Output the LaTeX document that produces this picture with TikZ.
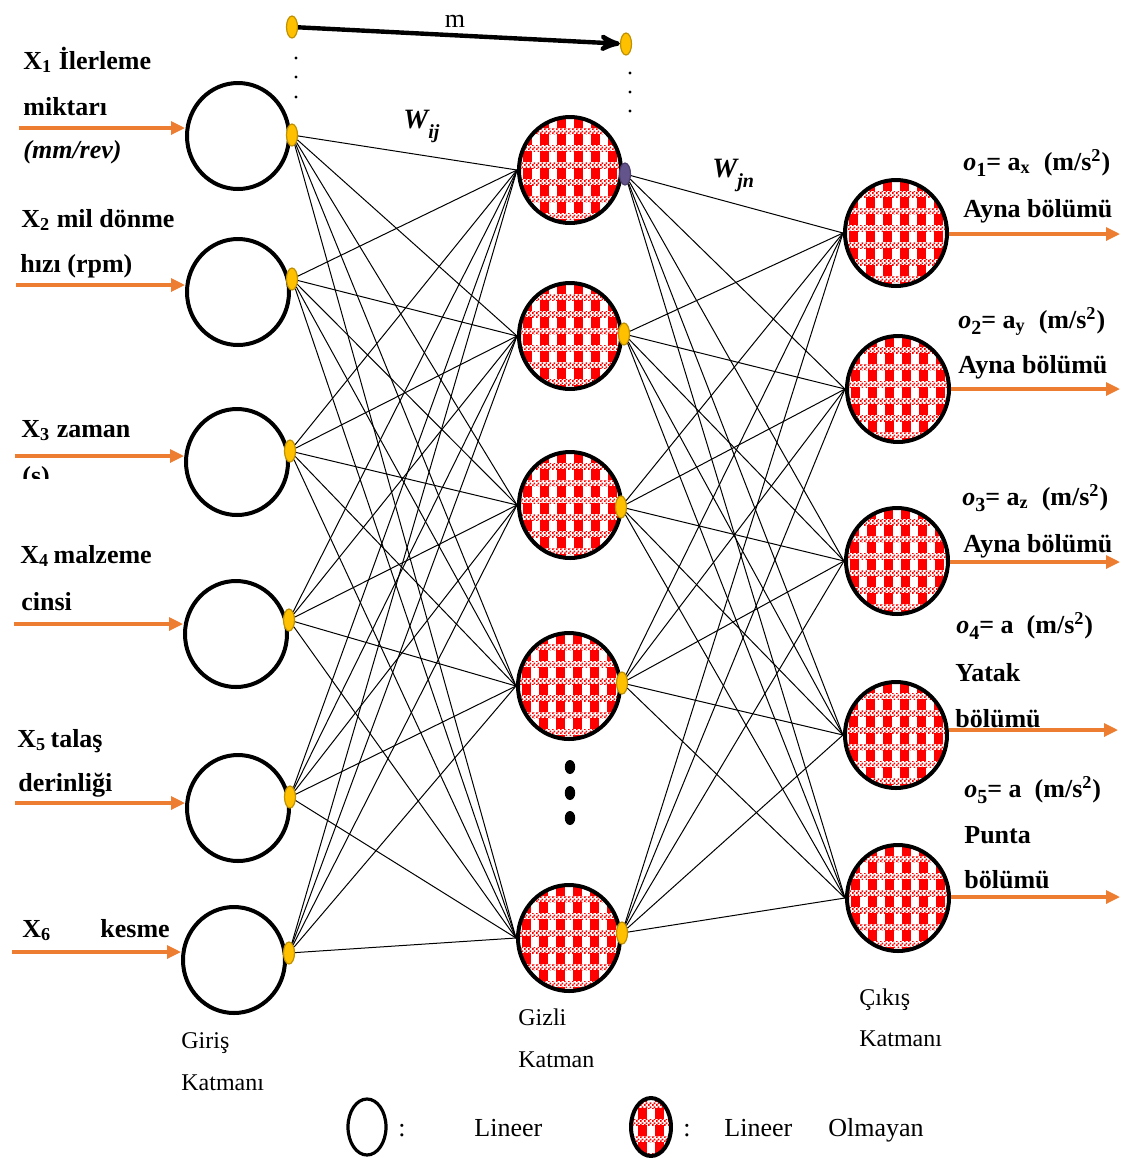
\documentclass[tikz,border=0pt]{standalone}
\usepackage{fontspec}
\setmainfont{Liberation Serif}
\usepackage{tikz}
\usetikzlibrary{arrows,arrows.meta,shapes.geometric,patterns}

\definecolor{chkred}{RGB}{255,0,0}
\definecolor{dotfill}{RGB}{255,192,0}
\definecolor{dotdraw}{RGB}{191,144,0}
\definecolor{feedorange}{RGB}{237,125,49}
\definecolor{purpfill}{RGB}{100,84,140}
\definecolor{purpdraw}{RGB}{78,62,110}

\pgfdeclarepatternformonly{finecheck}{\pgfpointorigin}{\pgfpoint{2pt}{2pt}}{\pgfpoint{2pt}{2pt}}{%
  \pgfpathrectangle{\pgfpointorigin}{\pgfpoint{1pt}{1pt}}%
  \pgfpathrectangle{\pgfpoint{1pt}{1pt}}{\pgfpoint{1pt}{1pt}}%
  \pgfusepath{fill}}

\begin{document}
\begin{tikzpicture}[x=0.5pt,y=-0.5pt,>=stealth']
	\tikzstyle{lin}=[ellipse,draw,line width=2pt,fill=white,minimum width=51pt,minimum height=53pt,inner sep=0pt]
	\tikzstyle{nonlin}=[lin,path picture={
		\begin{scope}[x=1pt,y=1pt]
			\foreach \c in {-4,...,3} \fill[chkred] (\c*8.5+2,-30) rectangle ++(4.7,60);
			\foreach \r in {-4,...,3} {
				\fill[white] (-30,\r*8.5+1) rectangle ++(60,2.8);
				\fill[pattern=finecheck,pattern color=chkred] (-30,\r*8.5+1) rectangle ++(60,2.8);
			}
		\end{scope}}]
	\tikzstyle{ydot}=[ellipse,fill=dotfill,draw=dotdraw,line width=0.6pt,minimum width=5.5pt,minimum height=11pt,inner sep=0pt]
	\tikzstyle{wire}=[line width=0.5pt]
	\tikzstyle{feed}=[draw=feedorange,line width=1.6pt,-{Triangle[length=7pt,width=6.5pt]}]
	\tikzstyle{lbl}=[font=\fontsize{13}{15}\selectfont\bfseries,anchor=base west,inner sep=0pt]
	\tikzstyle{laylbl}=[font=\fontsize{12}{14}\selectfont,anchor=base west,inner sep=0pt]

	\useasboundingbox (0,0) rectangle (1125,1158);

	% giris katmani
	\node[lin] (x1) at (238,136) {};
	\node[lin] (x2) at (238,292) {};
	\node[lin] (x3) at (237,462) {};
	\node[lin] (x4) at (236,634) {};
	\node[lin] (x5) at (238,808) {};
	\node[lin] (x6) at (234,960) {};
	\node[ydot] (d1) at (292,135) {};
	\node[ydot] (d2) at (292,279) {};
	\node[ydot] (d3) at (290,451) {};
	\node[ydot] (d4) at (289,620) {};
	\node[ydot] (d5) at (290,797) {};
	\node[ydot] (d6) at (289,953) {};

	% gizli katman
	\node[nonlin] (h1) at (570,170) {};
	\node[nonlin] (h2) at (570,336) {};
	\node[nonlin] (h3) at (570,505) {};
	\node[nonlin] (h4) at (569,686) {};
	\node[nonlin] (h5) at (569,938) {};
	\node[ydot,fill=purpfill,draw=purpdraw] (e1) at (625,174) {};
	\node[ydot] (e2) at (624,334) {};
	\node[ydot] (e3) at (621,507) {};
	\node[ydot] (e4) at (622,683) {};
	\node[ydot] (e5) at (622,933) {};
	\foreach \y in {767,793,818} \fill (570,\y) ellipse (2.6pt and 3.5pt);

	% cikis katmani
	\node[nonlin] (o1) at (896,233) {};
	\node[nonlin] (o2) at (898,389) {};
	\node[nonlin] (o3) at (897,561) {};
	\node[nonlin] (o4) at (896,735) {};
	\node[nonlin] (o5) at (898,898) {};

	% baglantilar
	\foreach \i in {1,...,6}
		\foreach \j in {1,...,5}
			\draw[wire] (d\i) -- (h\j.west);
	\foreach \j in {1,...,5}
		\foreach \k in {1,...,5}
			\draw[wire] (e\j) -- (o\k.west);

	% girisler
	\coordinate (a1) at (19,128);
	\coordinate (a2) at (16,285);
	\coordinate (a3) at (15,456);
	\coordinate (a4) at (14,624);
	\coordinate (a5) at (15,803);
	\coordinate (a6) at (12,952);
	\draw[feed] (a1) -- (a1 -| x1.west);
	\draw[feed] (a2) -- (a2 -| x2.west);
	\draw[feed] (a3) -- (a3 -| x3.west);
	\draw[feed] (a4) -- (a4 -| x4.west);
	\draw[feed] (a5) -- (a5 -| x5.west);
	\draw[feed] (a6) -- (a6 -| x6.west);

	\node[lbl] (l1a) at (23,69) {X\textsubscript{1} İlerleme};
	\node[lbl] (l1b) at (23,115) {miktarı};
	\node[lbl] (l1c) at (23,158) {\itshape(mm/rev)};
	\node[lbl] (l2a) at (21,227) {X\textsubscript{2} mil dönme};
	\node[lbl] (l2b) at (20,272) {hızı (rpm)};
	\node[lbl] (l3a) at (21,437) {X\textsubscript{3} zaman};
	\begin{scope}
		\clip (0,460) rectangle (200,478);
		\node[lbl] (l3b) at (22,484) {(s)};
	\end{scope}
	\node[lbl] (l4a) at (20,563) {X\textsubscript{4}\,malzeme};
	\node[lbl] (l4b) at (21,610) {cinsi};
	\node[lbl] (l5a) at (17,747) {X\textsubscript{5}\,talaş};
	\node[lbl] (l5b) at (18,791) {derinliği};
	\node[lbl] (l6a) at (22,937) {X\textsubscript{6}};
	\node[lbl] (l6b) at (100,937) {kesme};

	% cikislar
	\coordinate (b1) at (1120,234);
	\coordinate (b2) at (1120,389);
	\coordinate (b3) at (1120,562);
	\coordinate (b4) at (1118,730);
	\coordinate (b5) at (1120,897);
	\draw[feed] (o1.east |- b1) -- (b1);
	\draw[feed] (o2.east |- b2) -- (b2);
	\draw[feed] (o3.east |- b3) -- (b3);
	\draw[feed] (o4.east |- b4) -- (b4);
	\draw[feed] (o5.east |- b5) -- (b5);

	\node[lbl] (t1a) at (963,170) {\textit{o}\raisebox{-3pt}{\fontsize{10}{10}\selectfont 1}= a\textsubscript{x}\ \ (m/s\textsuperscript{2})};
	\node[lbl] (t1b) at (963,217) {Ayna bölümü};
	\node[lbl] (t2a) at (958,328) {\textit{o}\raisebox{-3pt}{\fontsize{10}{10}\selectfont 2}= a\textsubscript{y}\ \ (m/s\textsuperscript{2})};
	\node[lbl] (t2b) at (958,373) {Ayna bölümü};
	\node[lbl] (t3a) at (962,505) {\textit{o}\raisebox{-3pt}{\fontsize{10}{10}\selectfont 3}= a\textsubscript{z}\ \ (m/s\textsuperscript{2})};
	\node[lbl] (t3b) at (963,552) {Ayna bölümü};
	\node[lbl] (t4a) at (956,633) {\textit{o}\raisebox{-3pt}{\fontsize{10}{10}\selectfont 4}= a\ \ (m/s\textsuperscript{2})};
	\node[lbl] (t4b) at (955,681) {Yatak};
	\node[lbl] (t4c) at (955,727) {bölümü};
	\node[lbl] (t5a) at (964,797) {\textit{o}\raisebox{-3pt}{\fontsize{10}{10}\selectfont 5}= a\ \ (m/s\textsuperscript{2})};
	\node[lbl] (t5b) at (964,843) {Punta};
	\node[lbl] (t5c) at (964,888) {bölümü};

	% agirliklar
	\node[ydot] (m1) at (292,27) {};
	\node[ydot] (m2) at (626,44) {};
	\draw[line width=2.2pt,->] (m1) -- (m2);
	\node[laylbl,font=\fontsize{13}{15}\selectfont,anchor=base] (mlbl) at (455,27) {m};
	\foreach \y in {58,77,97} \fill (296,\y) circle (0.8pt);
	\foreach \y in {73,92,111} \fill (630,\y) circle (0.8pt);
	\node[anchor=base west,inner sep=0pt] (wij) at (403,128) {\fontsize{14}{16}\selectfont\bfseries\itshape W\raisebox{-5pt}{\fontsize{10}{10}\selectfont ij}};
	\node[anchor=base west,inner sep=0pt] (wjn) at (712,177) {\fontsize{14}{16}\selectfont\bfseries\itshape W\raisebox{-5pt}{\fontsize{10}{10}\selectfont jn}};

	% katman adlari
	\node[laylbl] (g1) at (181,1048) {Giriş};
	\node[laylbl] (g2) at (181,1090) {Katmanı};
	\node[laylbl] (z1) at (518,1025) {Gizli};
	\node[laylbl] (z2) at (518,1067) {Katman};
	\node[laylbl] (c1) at (859,1005) {Çıkış};
	\node[laylbl] (c2) at (859,1046) {Katmanı};

	% gosterim
	\node[lin,minimum width=19pt,minimum height=28pt,line width=1.6pt] (lg1) at (367,1127) {};
	\node[nonlin,minimum width=20pt,minimum height=29pt] (lg2) at (651,1127) {};
	\node[laylbl,font=\fontsize{13}{15}\selectfont] (k1) at (398,1136) {:};
	\node[laylbl,font=\fontsize{13}{15}\selectfont] (k2) at (683,1136) {:};
	\node[laylbl,font=\fontsize{13}{15}\selectfont] (lt1) at (474,1136) {Lineer};
	\node[laylbl,font=\fontsize{13}{15}\selectfont] (lt2) at (724,1136) {Lineer};
	\node[laylbl,font=\fontsize{13}{15}\selectfont] (lt3) at (828,1136) {Olmayan};
\end{tikzpicture}
\end{document}
